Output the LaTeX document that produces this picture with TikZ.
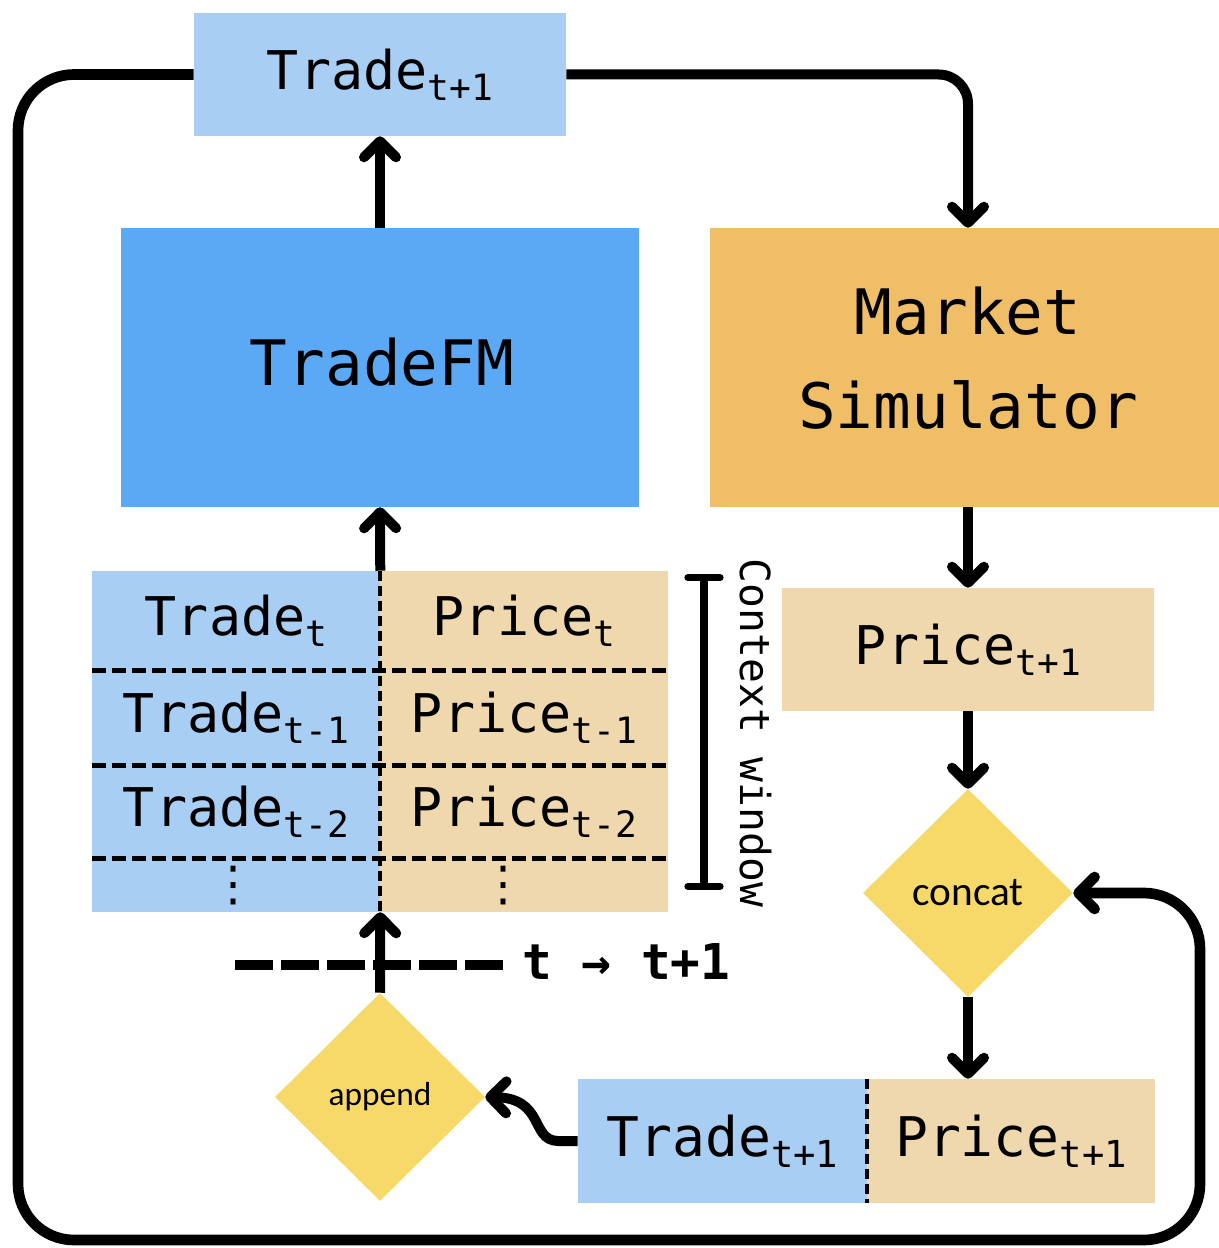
\documentclass[tikz,border=0pt]{standalone}
\usepackage{fontspec}
\setmonofont{DejaVu Sans Mono}
\setsansfont{Carlito}
\newfontfamily\dotsfont{DejaVu Sans}
\usetikzlibrary{arrows.meta,shapes.geometric}

\definecolor{tradeblue}{RGB}{169,206,243}
\definecolor{fmblue}{RGB}{91,168,245}
\definecolor{simorange}{RGB}{241,190,104}
\definecolor{pricetan}{RGB}{239,216,174}
\definecolor{gateyellow}{RGB}{247,217,106}

% subscript in the box labels
\newcommand{\sbs}[1]{\raisebox{-0.2em}{\scalebox{0.68}{#1}}}

\begin{document}
\begin{tikzpicture}[x=0.75pt,y=0.75pt,yscale=-1,xscale=1,
	box/.style={rectangle,inner sep=0pt,minimum width=279pt,minimum height=92.25pt,font=\ttfamily\fontsize{40}{48}\selectfont},
	cell/.style={rectangle,inner sep=0pt,minimum width=216pt,font=\ttfamily\fontsize{40}{48}\selectfont},
	bigbox/.style={rectangle,inner sep=0pt,minimum width=388.5pt,minimum height=209.25pt},
	bigtext/.style={align=center,inner sep=0pt,font=\ttfamily\fontsize{47}{71}\selectfont},
	gate/.style={diamond,fill=gateyellow,inner sep=0pt,minimum width=157.5pt,minimum height=156pt},
	flow/.style={line width=7.5pt,-{Straight Barb[length=12pt,width=24pt,round]}},
	rowsep/.style={line width=3.6pt,dash pattern=on 10.5pt off 4.5pt},
	colsep/.style={line width=3.2pt,dash pattern=on 7.5pt off 3.75pt},
	window/.style={line width=5.5pt,line cap=round,{Bar[width=24pt,round]}-{Bar[width=24pt,round]}},
	timeline/.style={line width=8pt,dash pattern=on 28.5pt off 6pt}]
	\useasboundingbox (0,0) rectangle (1218,1248);
	
	%Shape: Rectangle [top output]
	\node[box,fill=tradeblue] (trade) at (380,74.5) {Trade\sbs{t+1}};
	%Shape: Rectangle [model and simulator]
	\node[bigbox,fill=fmblue] (fm) at (380,367.5) {};
	\node[bigbox,fill=simorange,minimum width=387pt] (sim) at (968,367.5) {};
	% Text Node
	\node[bigtext] (fmtext) at (382,362) {TradeFM};
	\node[bigtext] (simtext) at (968,358) {Market\\Simulator};
	\node[box,fill=pricetan] (price) at (968,649.5) {Price\sbs{t+1}};
	
	%Shape: Diamond
	\node[gate,font=\sffamily\fontsize{31}{36}\selectfont] (concat) at (968,893) {concat};
	\node[gate,font=\sffamily\fontsize{25}{30}\selectfont] (append) at (380,1097) {append};
	
	%Shape: Rectangle [context table]
	\node[cell,fill=tradeblue,minimum height=74.25pt] (tr0) at (236,620.5) {Trade\sbs{t}};
	\node[cell,fill=pricetan,minimum height=74.25pt] (pr0) at (524,620.5) {Price\sbs{t}};
	\node[cell,fill=tradeblue,minimum height=71.25pt] (tr1) at (236,717.5) {Trade\sbs{t-1}};
	\node[cell,fill=pricetan,minimum height=71.25pt] (pr1) at (524,717.5) {Price\sbs{t-1}};
	\node[cell,fill=tradeblue,minimum height=69.75pt] (tr2) at (236,811.5) {Trade\sbs{t-2}};
	\node[cell,fill=pricetan,minimum height=69.75pt] (pr2) at (524,811.5) {Price\sbs{t-2}};
	\node[cell,fill=tradeblue,minimum height=40.5pt] (tr3) at (236,885) {};
	\node[cell,fill=pricetan,minimum height=40.5pt] (pr3) at (524,885) {};
	% Text Node
	\node[font=\dotsfont\fontsize{36}{40}\selectfont] (dotst) at (233,886) {⋮};
	\node[font=\dotsfont\fontsize{36}{40}\selectfont] (dotsp) at (503,886) {⋮};
	
	%Straight Lines [table dashes]
	\draw[rowsep] (tr0.south west) -- (pr0.south east);
	\draw[rowsep] (tr1.south west) -- (pr1.south east);
	\draw[rowsep] (tr2.south west) -- (pr2.south east);
	\draw[colsep] (tr0.north east) -- (tr3.south east);
	
	%Shape: Rectangle [new pair]
	\node[cell,fill=tradeblue,minimum width=216.75pt,minimum height=93pt,font=\ttfamily\fontsize{41}{48}\selectfont] (newtrade) at (722.5,1141) {Trade\sbs{t+1}};
	\node[cell,fill=pricetan,minimum height=93pt,font=\ttfamily\fontsize{41}{48}\selectfont] (newprice) at (1011,1141) {Price\sbs{t+1}};
	\draw[colsep] (newtrade.north east) -- (newtrade.south east);
	
	% Context window
	\coordinate (cwtop) at (704,574);
	\coordinate (cwbot) at (704,890);
	\draw[window] (cwtop) -- (cwbot);
	\node[rotate=-90,font=\ttfamily\fontsize{31}{36}\selectfont] (cwlabel) at (756,733) {Context window};
	
	% Time step
	\coordinate (tstart) at (235,965);
	\coordinate (tend) at (503,965);
	\draw[timeline] (tstart) -- (tend);
	\node[anchor=west,inner sep=0pt,font=\ttfamily\bfseries\fontsize{37}{44}\selectfont] (tlabel) at (522,962) {t → t+1};
	
	%Straight Lines [flow]
	\draw[flow] (fm.north) -- (trade.south);
	\draw[flow] (tr0.north east) -- (fm.south);
	\draw[flow] (append.north) -- (tr3.south east);
	\draw[flow] (sim.south) -- (price.north);
	\draw[flow] (price.south) -- (concat.north);
	\draw[flow] (concat.south) -- (concat.south |- newprice.north);
	\draw[flow,rounded corners=22pt] (trade.east) -| (sim.north);
	
	%Curve Lines [feedback]
	\coordinate (loopbl) at (18,1240);
	\coordinate (loopr) at (1200,893);
	\draw[flow,line width=8pt,rounded corners=42pt] (trade.west) -| (loopbl) -| (loopr) -- (concat.east);
	\draw[flow] (newtrade.west) -- ++(-20,0) .. controls (530,1140) and (545,1098) .. (append.east);
	
\end{tikzpicture}
\end{document}
